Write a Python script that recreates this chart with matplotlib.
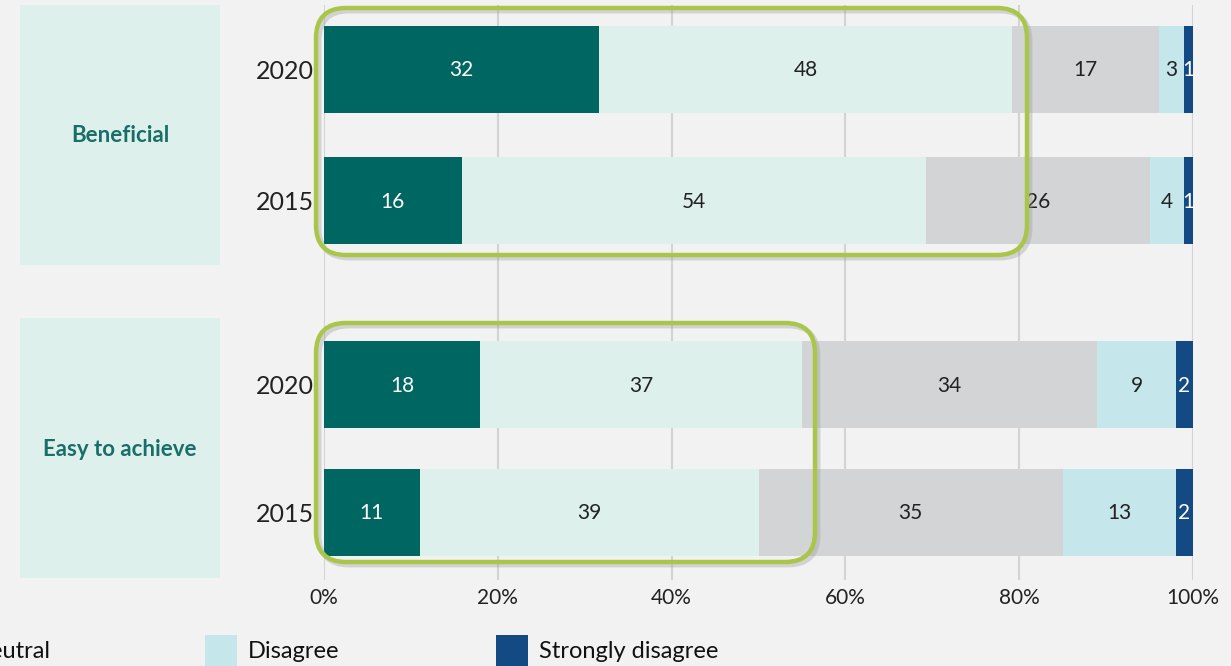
import matplotlib
matplotlib.use("Agg")
import matplotlib.pyplot as plt
from matplotlib.patches import Rectangle, FancyBboxPatch
import numpy as np

# ---------------- data ----------------
groups = ["Beneficial", "Easy to achieve"]
years = ["2020", "2015", "2020", "2015"]
categories = ["Strongly agree", "Agree", "Neutral", "Disagree", "Strongly disagree"]
strongly_agree = [32, 16, 18, 11]
agree = [48, 54, 37, 39]
neutral = [17, 26, 34, 35]
disagree = [3, 4, 9, 13]
strongly_disagree = [1, 1, 2, 2]
xticks = [0, 20, 40, 60, 80, 100]
xtick_labels = ["0%", "20%", "40%", "60%", "80%", "100%"]

colors = ["#006661", "#ddf0ec", "#d3d4d6", "#c5e7ec", "#134a84"]
text_colors = ["white", "#222222", "#222222", "#222222", "white"]

W, H = 1231, 666
plt.rcParams['font.family'] = ['Lato', 'DejaVu Sans']

fig = plt.figure(figsize=(W / 100, H / 100), dpi=100)
fig.patch.set_facecolor("#f2f2f2")

# left category panels (pixel boxes, top-left origin)
panel_boxes = [(20, 5, 200, 260), (20, 318, 200, 260)]
for (x, y, w, h), g in zip(panel_boxes, groups):
    fig.patches.append(Rectangle((x, H - (y + h)), w, h, transform=None,
                                 facecolor="#ddf0ec", edgecolor="none", zorder=0))
    fig.text((x + w / 2) / W, 1 - (y + h / 2 + 1) / H, g, ha="center", va="center",
             fontsize=16, fontweight="bold", color="#1a6e68")

# axes
ax_left, ax_right, ax_top, ax_bot = 324, 1193, 5, 580
ax = fig.add_axes([ax_left / W, 1 - ax_bot / H, (ax_right - ax_left) / W, (ax_bot - ax_top) / H])
ax.set_facecolor("none")
ax.set_xlim(0, 100)
ax.set_ylim(ax_bot, ax_top)

ycenters = [69.5, 200.5, 384.5, 512]
bar_h = 87

data = np.array([strongly_agree, agree, neutral, disagree, strongly_disagree], dtype=float)
totals = data.sum(axis=0)
widths = data / totals * 100

left = np.zeros(4)
for i in range(5):
    ax.barh(ycenters, widths[i], left=left, height=bar_h, color=colors[i],
            edgecolor="none", zorder=3)
    for j in range(4):
        ax.text(left[j] + widths[i][j] / 2, ycenters[j] + 1, f"{int(data[i][j])}",
                ha="center", va="center", fontsize=15, color=text_colors[i], zorder=4)
    left += widths[i]

ax.set_xticks(xticks)
ax.set_xticklabels(xtick_labels, fontsize=15, color="#222222")
ax.set_yticks(ycenters)
ax.set_yticklabels(years, fontsize=18, color="#222222")
ax.tick_params(axis="both", length=0)
ax.tick_params(axis="x", pad=6)
ax.tick_params(axis="y", pad=7)
ax.grid(axis="x", color="#d3d3d3", linewidth=1.5, zorder=1)
ax.grid(axis="y", visible=False)
for s in ax.spines.values():
    s.set_visible(False)

# green highlight boxes
hl_boxes = [(316, 8, 711, 247), (316, 323, 499, 239)]
for (x, y, w, h) in hl_boxes:
    shadow = FancyBboxPatch((x + 3, H - (y + h) - 3), w, h,
                            boxstyle="round,pad=0,rounding_size=30",
                            transform=None, facecolor="none", edgecolor="#999999",
                            linewidth=3.5, alpha=0.35, zorder=9)
    fig.patches.append(shadow)
    box = FancyBboxPatch((x, H - (y + h)), w, h,
                         boxstyle="round,pad=0,rounding_size=30",
                         transform=None, facecolor="none", edgecolor="#a9c64b",
                         linewidth=3.2, zorder=10)
    fig.patches.append(box)

# legend (partially cut off as in the source)
legend_items = [(2, "Neutral", -89), (3, "Disagree", 205), (4, "Strongly disagree", 496)]
for ci, label, px in legend_items:
    fig.patches.append(Rectangle((px, H - 666), 32, 31, transform=None,
                                 facecolor=colors[ci], edgecolor="none", zorder=5))
for ci, label, px in legend_items:
    if label == "Neutral":
        fig.text(51 / W, 1 - 651 / H, label, ha="right", va="center", fontsize=17, color="#111111")
    else:
        fig.text((px + 43) / W, 1 - 651 / H, label, ha="left", va="center", fontsize=17, color="#111111")

fig.savefig("out.png", dpi=100, facecolor=fig.get_facecolor())
